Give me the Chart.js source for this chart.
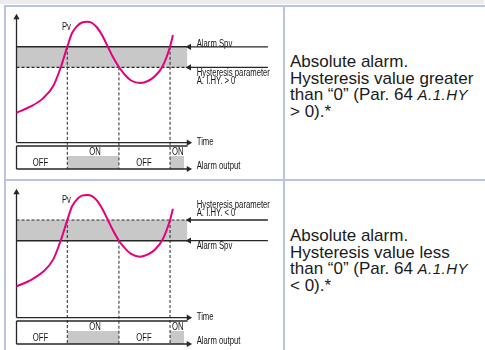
<!DOCTYPE html>
<html><head><meta charset="utf-8">
<script src="https://cdn.jsdelivr.net/npm/chart.js@4/dist/chart.umd.min.js"></script>
<style>
html,body{margin:0;padding:0;background:#fff;}
#page{position:relative;width:485px;height:350px;overflow:hidden;}
.strip{position:absolute;left:0;top:0;width:484px;height:4px;background:#ececec;}
.bd{position:absolute;background:#b9c3e4;}
canvas{position:absolute;left:0;}
.txt{position:absolute;left:290px;font-family:"Liberation Sans",Arial,sans-serif;font-size:17px;line-height:16.5px;color:#1a1a1a;white-space:nowrap;}
.seg{font-size:15px;letter-spacing:0.5px;font-style:italic;}
</style>
</head><body>
<div id="page">
  <div class="strip"></div>
  <div class="bd" style="left:4px;top:5px;width:481px;height:2px;"></div>
  <div class="bd" style="left:4px;top:5px;width:2px;height:345px;"></div>
  <div class="bd" style="left:283px;top:5px;width:2px;height:345px;"></div>
  <div class="bd" style="left:4px;top:179px;width:481px;height:2px;"></div>
  <canvas id="c1" width="283" height="180" style="top:0px;"></canvas>
  <canvas id="c2" width="283" height="175" style="top:175px;"></canvas>
  <div class="txt" style="top:54px;">Absolute alarm.<br>Hysteresis value greater<br>than “0” (Par. 64 <span class="seg">A.1.HY</span><br>&gt; 0).*</div>
  <div class="txt" style="top:228px;">Absolute alarm.<br>Hysteresis value less<br>than “0” (Par. 64 <span class="seg">A.1.HY</span><br>&lt; 0).*</div>
</div>
<script>
// ---- data (time units 0..100, process value units) ----
const pvTime  = [0, 8, 15.5, 21.5, 26, 29.7, 32.5, 35.4, 38.3, 41.2, 44.2, 47.1, 50, 53.5, 56.4, 59.9, 63.5, 67, 72.2, 76.9, 81, 85.3, 89.8, 91.5];
const pvUpper = [23.2, 27.9, 34.4, 44, 59, 74.6, 85.2, 90.6, 93.4, 94.0, 93.0, 89.5, 83.6, 74.3, 66.5, 58.8, 52.6, 48.3, 46.3, 47.9, 51.8, 59, 74.6, 83.6];
const pvLower = [24.3, 29, 35.6, 45.3, 60.5, 75.9, 86.6, 92, 94.8, 95.3, 94.4, 90.9, 85, 75.7, 67.9, 59.8, 53.8, 49.5, 47.4, 49.1, 53, 60.3, 75.9, 84.7];
// [Alarm Spv, hysteresis threshold]
const levelsPositive = [74.5, 58.5];
const levelsNegative = [59.8, 75.9];
// switching instants (ON, OFF, ON)
const switchTimes = [29.7, 59.9, 89.8];
// alarm output ON intervals
const onStart = [29.7, 89.8];
const onEnd   = [59.9, 98];
const outputLabels = ['OFF', 'ON', 'OFF', 'ON'];

const T_MIN = 0, T_MAX = 100, V_MIN = -20.5, V_MAX = 100;
const OUT_TOP = -2.6, OUT_ON = -10.4;
const INK = '#262626', GREY = '#c8c8c8', PINK = '#e4007c';

const textPlugin = {
  id: 'diagramText',
  afterDatasetsDraw(chart, args, opts) {
    const {ctx, scales: {x, y}} = chart;
    ctx.save();
    ctx.fillStyle = '#151515';
    ctx.font = '10px "Liberation Sans", Arial, sans-serif';
    ctx.textBaseline = 'middle';
    for (const l of opts.items) {
      const px = x.getPixelForValue(l.x), py = y.getPixelForValue(l.y);
      ctx.save();
      ctx.translate(px, py);
      ctx.scale(0.77, 1);
      ctx.textAlign = l.align || 'left';
      ctx.fillText(l.text, 0, 0);
      ctx.restore();
    }
    ctx.restore();
  }
};

function seg(x0, y0, x1, y1, extra) {
  return Object.assign({
    data: [{x: x0, y: y0}, {x: x1, y: y1}],
    borderColor: INK, borderWidth: 1.3, pointRadius: 0, clip: false, fill: false
  }, extra || {});
}
function arrow(x0, y0, x1, y1, rot) {
  return seg(x0, y0, x1, y1, {
    pointRadius: [0, 3.6], pointStyle: 'triangle', pointRotation: [0, rot],
    pointBackgroundColor: INK, pointBorderColor: INK, pointBorderWidth: 0
  });
}

function build(id, pv, levels, hystText, labelsY, padBottom) {
  const [spv, hyst] = levels;
  const ds = [];
  ds.push({data: pvTime.map((t, i) => ({x: t, y: pv[i]})), borderColor: PINK, borderWidth: 2,
           cubicInterpolationMode: 'monotone', pointRadius: 0, clip: false, fill: false});
  ds.push(seg(T_MIN, spv, T_MAX, spv, {borderWidth: 1.4}));
  ds.push(seg(T_MIN, hyst, T_MAX, hyst, {borderWidth: 1.2, borderDash: [3, 2]}));
  const upperLevel = Math.max(spv, hyst), lowerLevel = Math.min(spv, hyst);
  const fromLevels = [upperLevel, lowerLevel, upperLevel];
  switchTimes.forEach((t, i) => ds.push(seg(t, fromLevels[i], t, V_MIN, {borderWidth: 1, borderDash: [3, 2]})));
  // axes
  ds.push(arrow(T_MIN, 0, T_MIN, 97.3, 0));
  ds.push(arrow(T_MIN, 0, 100.6, 0, 90));
  ds.push(arrow(T_MIN, V_MIN, 100.6, V_MIN, 90));
  ds.push(seg(T_MIN, OUT_TOP, T_MIN, V_MIN));
  ds.push(seg(T_MIN, OUT_TOP, T_MAX, OUT_TOP));
  // pointer arrows from labels
  ds.push(arrow(147, spv, 101, spv, -90));
  ds.push(arrow(147, hyst, 101, hyst, -90));
  // alarm output ON blocks
  onStart.forEach((s, i) => ds.push({data: [{x: s, y: OUT_ON}, {x: onEnd[i], y: OUT_ON}],
    borderWidth: 0, pointRadius: 0, backgroundColor: GREY, fill: {value: V_MIN}, clip: false}));
  // hysteresis band
  ds.push({data: [{x: T_MIN, y: upperLevel}, {x: T_MAX, y: upperLevel}], borderWidth: 0, pointRadius: 0,
           backgroundColor: GREY, fill: {value: lowerLevel}, clip: false});

  const items = [
    {text: 'Pv', x: 29.2, y: labelsY.pv, align: 'center'},
    {text: 'Alarm Spv', x: 105.4, y: labelsY.spv},
    {text: 'Hysteresis parameter', x: 105.4, y: labelsY.hp},
    {text: hystText, x: 105.4, y: labelsY.hv},
    {text: 'Time', x: 105.4, y: 0},
    {text: 'Alarm output', x: 105.4, y: -18.2},
    {text: outputLabels[0], x: 14.0, y: -16.2, align: 'center'},
    {text: outputLabels[1], x: 45.9, y: -7.3, align: 'center'},
    {text: outputLabels[2], x: 74.6, y: -16.2, align: 'center'},
    {text: outputLabels[3], x: 90.9, y: -7.3}
  ];

  new Chart(document.getElementById(id), {
    type: 'line',
    data: {datasets: ds},
    options: {
      responsive: false, animation: false, events: [],
      layout: {padding: {left: 16.5, right: 95.5, top: 14, bottom: padBottom}},
      scales: {
        x: {type: 'linear', display: false, min: T_MIN, max: T_MAX},
        y: {type: 'linear', display: false, min: V_MIN, max: V_MAX}
      },
      plugins: {legend: {display: false}, tooltip: {enabled: false}, diagramText: {items}}
    },
    plugins: [textPlugin]
  });
}

build('c1', pvUpper, levelsPositive, 'A. I.HY. > 0', {pv: 89.9, spv: 76.7, hp: 53.9, hv: 48.1}, 11);
build('c2', pvLower, levelsNegative, 'A. I.HY. < 0', {pv: 91.4, spv: 55.7, hp: 87.0, hv: 81.1}, 6);
</script>
</body></html>
